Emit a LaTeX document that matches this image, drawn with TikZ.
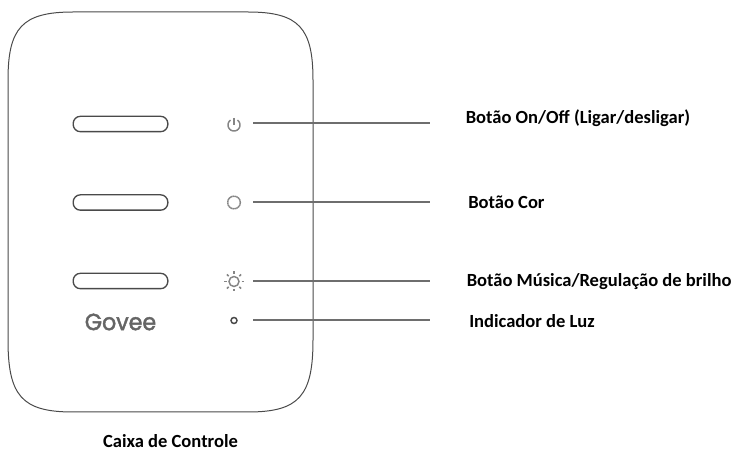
\documentclass[tikz,border=0pt]{standalone}
\usepackage{fontspec}
\setmainfont{Carlito}
\newfontfamily\logofont[FakeBold=2,FakeStretch=.95]{Poppins}
\definecolor{traco}{HTML}{6E6E6E}
\definecolor{contorno}{HTML}{4A4A4A}
\definecolor{icone}{HTML}{858585}
\tikzset{
	botao/.style={draw=contorno,line width=1pt,rounded corners=5.4pt,minimum width=71pt,minimum height=11.5pt,inner sep=0pt},
	anel/.style={draw=icone,line width=1.1pt,circle,inner sep=0pt},
	rotulo/.style={font=\bfseries\fontsize{13.9pt}{16pt}\selectfont,inner sep=0pt,anchor=base west,text=black},
	traco/.style={draw=traco,line width=1.5pt}
}
\begin{document}
\begin{tikzpicture}[x=.75pt,y=-.75pt]
		\useasboundingbox (0,0) rectangle (736,452);
		\draw[contorno,line width=.75pt] (8,80) .. controls (8,28) and (22,12) .. (73,12) -- (248,12)
		.. controls (299,12) and (313,28) .. (313,80) -- (313,340)
		.. controls (313,396) and (299,412) .. (248,412) -- (73,412)
		.. controls (22,412) and (8,396) .. (8,340) -- cycle;
		\node[botao] (btnPower) at (120.5,124) {};
		\node[botao] (btnCor) at (120.5,202.5) {};
		\node[botao] (btnBrilho) at (120.5,281) {};
		\node[font=\logofont\fontsize{17.5pt}{18pt}\selectfont,text=contorno!85,inner sep=0pt] (logo) at (120.5,322) {Govee};
		\draw[icone,line width=1.1pt,smooth,samples=24]
		plot[domain=125:415] ({234+6*cos(\x)},{125-6*sin(\x)});
		\coordinate (pwr) at (234,118);
		\coordinate (pwrBase) at (234,125);
		\draw[icone,line width=1.1pt] (pwr) -- (pwrBase);
		\node[anel,minimum size=9.5pt,dash pattern=on 1.2pt off .3pt] (cor) at (234,202.5) {};
		\node[anel,minimum size=7.5pt] (sol) at (234,281.5) {};
		\foreach \a in {0,45,...,315}
		\draw[icone,line width=1.1pt,shift={(sol.center)}] ({7.5*cos(\a)},{7.5*sin(\a)}) -- ({10*cos(\a)},{10*sin(\a)});
		\node[draw=contorno,line width=1.1pt,circle,minimum size=4.5pt,inner sep=0pt] (led) at (234,320.5) {};
		\foreach \nome/\y in {Power/123.5,Cor/202.5,Brilho/281,Led/320.5}{
			\coordinate (ini\nome) at (253,\y);
			\coordinate (fim\nome) at (430,\y);
			\draw[traco] (ini\nome) -- (fim\nome);
		}
		\node[rotulo] (lblPower) at (465.5,123.5) {Botão On/Off (Ligar/desligar)};
		\node[rotulo] (lblCor) at (468,209) {Botão Cor};
		\node[rotulo] (lblBrilho) at (466.5,287) {Botão Música/Regulação de brilho};
		\node[rotulo] (lblLed) at (469,327.5) {Indicador de Luz};
		\node[rotulo,anchor=base] (lblCaixa) at (170.5,447.5) {Caixa de Controle};
\end{tikzpicture}
\end{document}
